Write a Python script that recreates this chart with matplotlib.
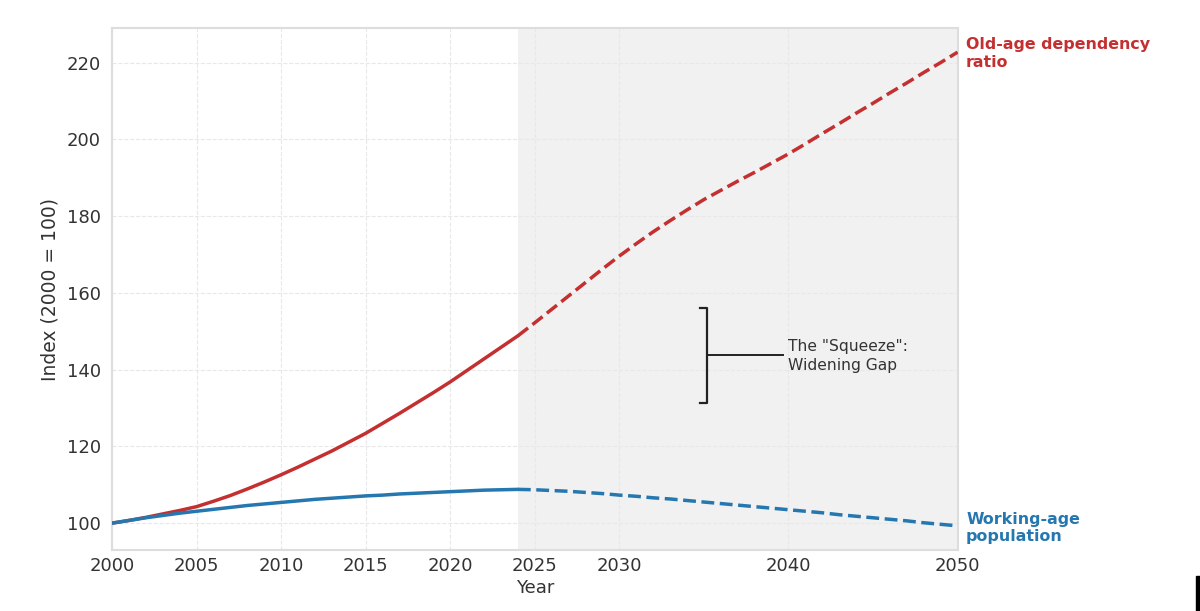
import matplotlib
matplotlib.use("Agg")
import matplotlib.pyplot as plt
from matplotlib.patches import Rectangle

# ---- data ----
hist_years = list(range(2000, 2025))
old_age_hist = [100.0, 100.7, 101.5, 102.4, 103.3, 104.3, 105.7, 107.2, 108.9, 110.7,
                112.6, 114.6, 116.7, 118.8, 121.1, 123.4, 126.0, 128.6, 131.3, 134.0,
                136.8, 139.8, 142.8, 145.8, 148.8]
working_hist = [100.0, 100.7, 101.4, 102.0, 102.6, 103.1, 103.6, 104.1, 104.6, 105.0,
                105.4, 105.8, 106.2, 106.5, 106.8, 107.1, 107.3, 107.6, 107.8, 108.0,
                108.2, 108.4, 108.6, 108.7, 108.8]

proj_years = list(range(2024, 2051))
old_age_proj = [148.8, 152.2, 155.7, 159.2, 162.7, 166.2, 169.6, 172.8, 175.9, 178.8,
                181.6, 184.3, 186.7, 189.1, 191.4, 193.8, 196.2, 198.8, 201.5, 204.1,
                206.8, 209.4, 212.1, 214.7, 217.4, 220.0, 222.7]
working_proj = [108.8, 108.7, 108.5, 108.3, 108.0, 107.7, 107.3, 107.0, 106.6, 106.3,
                105.9, 105.5, 105.1, 104.7, 104.3, 103.9, 103.5, 103.1, 102.7, 102.2,
                101.8, 101.4, 101.0, 100.6, 100.1, 99.7, 99.3]

x_ticks = [2000, 2005, 2010, 2015, 2020, 2025, 2030, 2040, 2050]
y_ticks = [100, 120, 140, 160, 180, 200, 220]

RED = "#c42f30"
BLUE = "#2577b0"

fig = plt.figure(figsize=(12, 6.11), dpi=100)
ax = fig.add_axes([0.0933, 0.0998, 0.7047, 0.8544])

ax.axvspan(2024, 2050, color="#f1f1f1", zorder=0, lw=0)

ax.plot(hist_years, old_age_hist, color=RED, lw=2.5, solid_capstyle="round", zorder=3)
ax.plot(proj_years, old_age_proj, color=RED, lw=2.5, ls="--", zorder=3)
ax.plot(hist_years, working_hist, color=BLUE, lw=2.5, solid_capstyle="round", zorder=3)
ax.plot(proj_years, working_proj, color=BLUE, lw=2.5, ls="--", zorder=3)

ax.set_xlim(2000, 2050)
ax.set_ylim(93, 229)
ax.set_xticks(x_ticks)
ax.set_yticks(y_ticks)
ax.tick_params(axis="both", length=0, labelsize=13, labelcolor="#333333")
ax.tick_params(axis="x", pad=5)
ax.tick_params(axis="y", pad=8)
ax.grid(True, color="#e8e8e8", lw=0.8, ls="--", zorder=1)
ax.set_axisbelow(True)
for s in ax.spines.values():
    s.set_color("#dddddd")
    s.set_linewidth(1.5)

ax.set_xlabel("Year", fontsize=13, color="#333333", labelpad=3)
ax.set_ylabel("Index (2000 = 100)", fontsize=13.5, color="#333333", labelpad=5)

# end labels
ax.text(2050.5, old_age_proj[-1] - 0.3, "Old-age dependency\nratio", color=RED,
        fontsize=11.4, fontweight="bold", va="center", ha="left", linespacing=1.22,
        clip_on=False)
ax.text(2050.5, working_proj[-1] - 0.6, "Working-age\npopulation", color=BLUE,
        fontsize=11.4, fontweight="bold", va="center", ha="left", linespacing=1.22,
        clip_on=False)

# squeeze bracket
bx, btop, bbot, bmid = 2035.2, 156.0, 131.3, 143.8
tick = 0.45
ax.plot([bx - tick, bx, bx, bx - tick], [btop, btop, bbot, bbot], color="#222222", lw=1.6, zorder=4)
ax.plot([bx, 2039.65], [bmid, bmid], color="#222222", lw=1.4, zorder=4)
ax.text(2040.0, bmid - 0.3, "The \"Squeeze\":\nWidening Gap", fontsize=11.2, color="#333333",
        va="center", ha="left", linespacing=1.32, zorder=4)

# edge artifact
fig.patches.append(Rectangle((1196 / 1200, 0), 4 / 1200, 35 / 611, transform=fig.transFigure,
                             color="black", zorder=10))

fig.savefig("out.png", dpi=100)
